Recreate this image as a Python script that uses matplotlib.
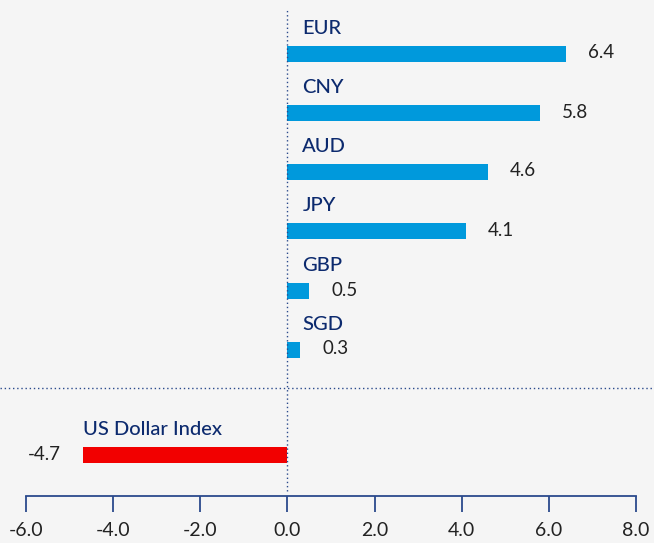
import matplotlib
matplotlib.use("Agg")
from matplotlib import pyplot as plt

currencies = ["EUR", "CNY", "AUD", "JPY", "GBP", "SGD", "US Dollar Index"]
changes = [6.4, 5.8, 4.6, 4.1, 0.5, 0.3, -4.7]
tick_values = [-6.0, -4.0, -2.0, 0.0, 2.0, 4.0, 6.0, 8.0]

# vertical pixel positions of the bar centres (the index sits apart below)
rows = [54, 113, 172, 231, 291, 350, 455]

bg = "#f5f5f5"
navy = "#0c2a6e"
axis_col = "#2b4a8c"
plt.rcParams["font.family"] = ["Lato", "DejaVu Sans"]

fig = plt.figure(figsize=(6.54, 5.43), dpi=100, facecolor=bg)
ax = fig.add_axes([0, 47 / 543, 1, 496 / 543])
ax.set_facecolor(bg)

px = 14 / 610
ax.set_xlim(-6 - 26 * px, 8 + 18 * px)
ax.set_ylim(496, 0)

colors = ["#0099dc" if v > 0 else "#f20000" for v in changes]
ax.barh(rows, changes, height=16, color=colors, zorder=2)

for name, v, y in zip(currencies, changes, rows):
    if v > 0:
        ax.text(v + 22 * px, y - 1, f"{v:.1f}", va="center", ha="left",
                fontsize=13.5, color="#222222")
        ax.text(15 * px, y - 17, name, va="bottom", ha="left",
                fontsize=14.5, color=navy, fontweight="medium")
    else:
        ax.text(v - 22 * px, y - 1, f"{v:.1f}", va="center", ha="right",
                fontsize=13.5, color="#222222")
        ax.text(v, y - 17, name, va="bottom", ha="left",
                fontsize=14.5, color=navy, fontweight="medium")

ax.axvline(0, ymin=0.01, ymax=0.98, color=axis_col, linestyle=(0, (1, 2)), lw=1)
ax.axhline(388, color=axis_col, linestyle=(0, (1, 2)), lw=1)

for s in ["top", "left", "right"]:
    ax.spines[s].set_visible(False)
ax.spines["bottom"].set_bounds(-6, 8)
ax.spines["bottom"].set_color(axis_col)
ax.spines["bottom"].set_linewidth(1.3)
ax.set_yticks([])
ax.set_xticks(tick_values)
ax.set_xticklabels([f"{t:.1f}" for t in tick_values])
ax.tick_params(axis="x", direction="out", length=11.5, width=1.3,
               color=axis_col, labelsize=14, labelcolor="#222222", pad=7)

fig.savefig("out.png", dpi=100, facecolor=bg)
